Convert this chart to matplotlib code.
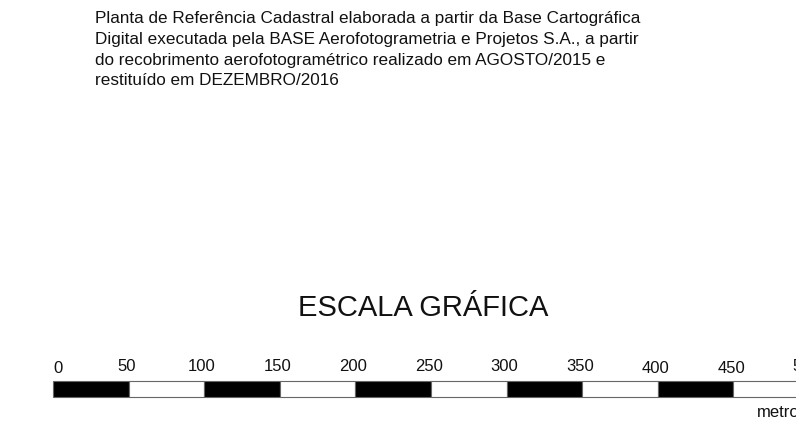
#!/usr/bin/env python3
"""Graphic scale bar (escala gráfica) with the cadastral note above it."""

import matplotlib
matplotlib.use("Agg")
import matplotlib.pyplot as plt
from matplotlib.patches import Rectangle

plt.rcParams["font.family"] = ["Liberation Sans", "DejaVu Sans"]

NOTE_LINES = [
    "Planta de Referência Cadastral elaborada a partir da Base Cartográfica",
    "Digital executada pela BASE Aerofotogrametria e Projetos S.A., a partir",
    "do recobrimento aerofotogramétrico realizado em AGOSTO/2015 e",
    "restituído em DEZEMBRO/2016",
]
TITLE = "ESCALA GRÁFICA"
UNIT = "metros"

# segment edges of the scale bar, in metres
SEGMENT_EDGES = [0, 50, 100, 150, 200, 250, 300, 350, 400, 450, 500]
SEGMENT_COLORS = ["black", "white"]
TICK_VALUES = [0, 50, 100, 150, 200, 250, 300, 350, 400, 450, 500]
TICK_LABELS = ["0", "50", "100", "150", "200", "250", "300", "350", "400", "450", "500"]

W, H = 796, 427
X0_PX = 53          # pixel where 0 m sits
PX_PER_M = 1.512    # pixels per metre


def px_to_m(px):
    return (px - X0_PX) / PX_PER_M


def main():
    fig = plt.figure(figsize=(W / 100, H / 100), dpi=100)
    ax = fig.add_axes([0, 0, 1, 1])
    ax.set_xlim(px_to_m(0), px_to_m(W))
    ax.set_ylim(H, 0)
    ax.axis("off")

    # note text (y in pixels from the top)
    ax.text(px_to_m(95), 11.5, "\n".join(NOTE_LINES),
            fontsize=12.3, ha="left", va="top", linespacing=1.46, color="#111111")

    ax.text(px_to_m(423), 308, TITLE,
            fontsize=21, ha="center", va="center", color="#111111")

    bar_top, bar_h = 382, 16
    for i in range(len(SEGMENT_EDGES) - 1):
        left = SEGMENT_EDGES[i]
        width = SEGMENT_EDGES[i + 1] - left
        ax.add_patch(Rectangle((left, bar_top), width, bar_h,
                               facecolor=SEGMENT_COLORS[i % 2],
                               edgecolor="#666666", linewidth=0.8))

    for value, label in zip(TICK_VALUES, TICK_LABELS):
        ha = "left" if value == 0 else "center"
        y = 369 if value in (0, 400, 450) else 367
        ax.text(value - 1.5 * (value != 0), y, label, fontsize=12,
                ha=ha, va="center", color="#111111")

    ax.text(px_to_m(757), 413, UNIT, fontsize=12,
            ha="left", va="center", color="#111111")

    fig.savefig("out.png", dpi=100)
    plt.close(fig)


if __name__ == "__main__":
    main()
